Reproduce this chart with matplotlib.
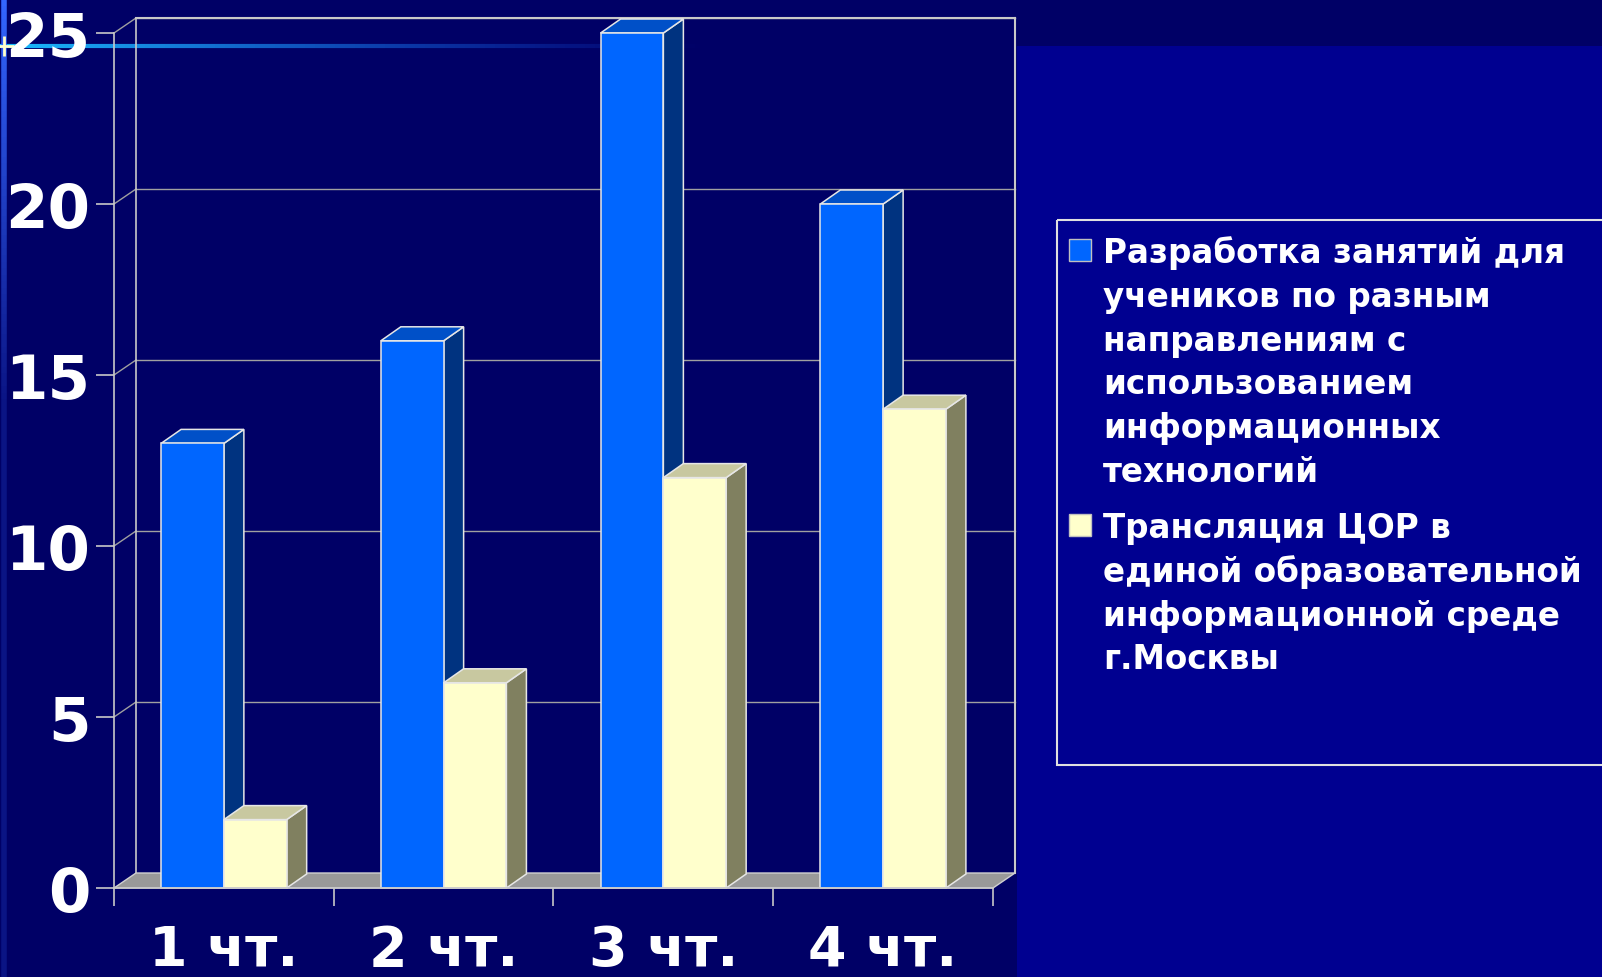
import matplotlib
matplotlib.use("Agg")
import matplotlib.pyplot as plt
from matplotlib.patches import Polygon, Rectangle
from matplotlib.collections import LineCollection
import numpy as np

# ---------------- data ----------------
categories = ["1 чт.", "2 чт.", "3 чт.", "4 чт."]
series_names = [
    "Разработка занятий для\nучеников по разным\nнаправлениям с\nиспользованием\nинформационных\nтехнологий",
    "Трансляция ЦОР в\nединой образовательной\nинформационной среде\nг.Москвы",
]
series_a = [13, 16, 25, 20]
series_b = [2, 6, 12, 14]
y_ticks = [0, 5, 10, 15, 20, 25]

# ---------------- style ----------------
W, H = 1602, 978
BG_LIGHT = '#000090'
BG_DARK = '#000066'
FACE = {
    0: dict(front='#0066FF', top='#0050C8', side='#003380'),
    1: dict(front='#FFFFCC', top='#C8C8A0', side='#808060'),
}
EDGE = '#E6E6E6'
GRID = '#A0A0A0'
FAM = ['DejaVu Sans']

fig = plt.figure(figsize=(W / 100, H / 100), dpi=100)
fig.patch.set_facecolor(BG_LIGHT)

# background decoration (pixel coordinates)
bg = fig.add_axes([0, 0, 1, 1], zorder=-10)
bg.set_xlim(0, W)
bg.set_ylim(H, 0)
bg.axis('off')
bg.add_patch(Rectangle((0, 0), W, 47, color=BG_DARK, lw=0))
bg.add_patch(Rectangle((0, 0), 1017, H, color=BG_DARK, lw=0))
# horizontal glowing line
xs = np.linspace(0, 700, 141)
segs = [[(xs[i], 47), (xs[i + 1], 47)] for i in range(len(xs) - 1)]
alph = np.clip(1 - xs[:-1] / 700, 0, 1)
cols = [(0.1, 0.35 + 0.4 * a, 1.0, a) for a in alph]
bg.add_collection(LineCollection(segs, colors=cols, linewidths=3))
# vertical glowing line
ys = np.linspace(0, H, 150)
segs = [[(4, ys[i]), (4, ys[i + 1])] for i in range(len(ys) - 1)]
alph = np.clip(1 - ys[:-1] / 500, 0.2, 1)
cols = [(0.2, 0.4, 1.0, a) for a in alph]
bg.add_collection(LineCollection(segs, colors=cols, linewidths=4))
bg.plot([4], [47], marker='+', ms=14, mew=2, color='#FFFFCC')

# ---------------- main axes (front plane) ----------------
x_left, x_right = 114, 993
y_zero, y_top = 889, 34
ax = fig.add_axes([x_left / W, (H - y_zero) / H, (x_right - x_left) / W, (y_zero - y_top) / H])
ax.set_facecolor('none')
n = len(categories)
ymax = y_ticks[-1]
ax.set_xlim(0, n)
ax.set_ylim(0, ymax)

cat_px = (x_right - x_left) / n
val_px = (y_zero - y_top) / ymax
DX, DY = 22 / cat_px, 15 / val_px      # wall depth
BDX, BDY = 20 / cat_px, 14 / val_px    # bar depth

# back wall frame + gridlines
for v in y_ticks[1:]:
    ax.plot([DX, n + DX], [v + DY, v + DY], color=GRID, lw=1, clip_on=False, zorder=1)
    ax.plot([0, DX], [v, v + DY], color=GRID, lw=1, clip_on=False, zorder=1)
ax.plot([DX, DX], [DY, ymax + DY], color='#C8C8C8', lw=1.2, clip_on=False, zorder=1)
ax.plot([n + DX, n + DX], [DY, ymax + DY], color='#C8C8C8', lw=1.5, clip_on=False, zorder=1)
ax.plot([DX, n + DX], [ymax + DY, ymax + DY], color='#C8C8C8', lw=1.5, clip_on=False, zorder=1)

# floor
ax.add_patch(Polygon([(0, 0), (n, 0), (n + DX, DY), (DX, DY)], closed=True,
                     facecolor='#999999', edgecolor='#D0D0D0', lw=1, clip_on=False, zorder=2))

bar_w = 1 / 3.5
half_gap = 0.75 * bar_w


def draw_bar(x0, v, c, z):
    side = [(x0 + bar_w, 0), (x0 + bar_w + BDX, BDY), (x0 + bar_w + BDX, v + BDY), (x0 + bar_w, v)]
    top = [(x0, v), (x0 + bar_w, v), (x0 + bar_w + BDX, v + BDY), (x0 + BDX, v + BDY)]
    front = [(x0, 0), (x0 + bar_w, 0), (x0 + bar_w, v), (x0, v)]
    for pts, col in ((side, c['side']), (top, c['top']), (front, c['front'])):
        ax.add_patch(Polygon(pts, closed=True, facecolor=col, edgecolor=EDGE, lw=1.1,
                             joinstyle='miter', clip_on=False, zorder=z))


z = 3
for i in range(n):
    for s, vals in enumerate((series_a, series_b)):
        x0 = i + half_gap + s * bar_w
        draw_bar(x0, vals[i], FACE[s], z)
        z += 1

# axes, ticks
for sp in ('top', 'right'):
    ax.spines[sp].set_visible(False)
for sp in ('left', 'bottom'):
    ax.spines[sp].set_color('#C8C8C8')
    ax.spines[sp].set_linewidth(1.2)
    ax.spines[sp].set_zorder(50)

ax.set_yticks(y_ticks)
ax.set_yticklabels([str(v) for v in y_ticks], fontweight='bold', family=FAM)
ax.tick_params(axis='y', length=13, width=1.2, color='#C8C8C8', pad=4,
               labelcolor='white', labelsize=44)
ax.set_xticks(range(n + 1))
ax.set_xticklabels([''] * (n + 1))
ax.tick_params(axis='x', which='major', length=13, width=1.2, color='#C8C8C8')
ax.set_xticks([i + 0.5 for i in range(n)], minor=True)
ax.set_xticklabels(categories, minor=True, fontweight='bold', family=FAM)
ax.tick_params(axis='x', which='minor', length=0, pad=25, labelcolor='white', labelsize=40)

# ---------------- legend (manual) ----------------
lg_left, lg_top, lg_bottom = 1057, 221, 766
bg.add_patch(Rectangle((lg_left, lg_top), W + 20 - lg_left, lg_bottom - lg_top,
                       facecolor='none', edgecolor='#E0E0E0', lw=1.5))
entry_base = [263, 538]
line_gap = 43.8
for s, name in enumerate(series_names):
    b0 = entry_base[s]
    bg.add_patch(Rectangle((1069, b0 - 23), 22, 22, facecolor=FACE[s]['front'],
                           edgecolor='#C0C0C0', lw=1))
    for k, line in enumerate(name.split('\n')):
        bg.text(1103, b0 + k * line_gap, line, color='white', fontsize=23.5,
                fontweight='bold', family=FAM, va='baseline', ha='left')

fig.savefig('out.png', dpi=100, facecolor=fig.get_facecolor())
